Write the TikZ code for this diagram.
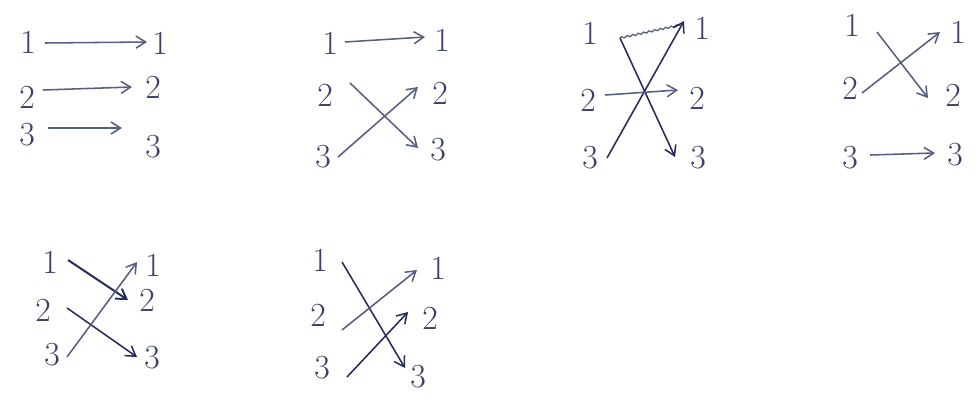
\documentclass[tikz,border=0pt]{standalone}
\usepackage{tikz}
\usetikzlibrary{arrows.meta,decorations.pathmorphing}
\usepackage{xcolor}
\definecolor{ink}{RGB}{38,42,92}
\definecolor{inkpale}{RGB}{88,94,130}

\tikzset{
  num/.style={inner sep=0pt, text=ink!90, font=\fontsize{24}{28}\selectfont},
  map/.style={-{Straight Barb[length=2.4mm,width=3mm]}, draw=ink, line width=1.1pt},
  mappale/.style={map, draw=inkpale},
}

\begin{document}
\begin{tikzpicture}[x=0.025cm,y=-0.025cm]
  \useasboundingbox (0,0) rectangle (979,402);
  % (a) identidad
  \begin{scope}
    \node[num] (a1l) at (28,42) {1};  \node[num] (a1r) at (160,43) {1};
    \node[num] (a2l) at (27,97) {2};  \node[num] (a2r) at (153,87) {2};
    \node[num] (a3l) at (27,135) {3}; \node[num] (a3r) at (153,147) {3};
    \draw[mappale] ([shift={(17,1)}]a1l.center) -- ([shift={(-13,-1)}]a1r.center);
    \draw[mappale] ([shift={(16,-7)}]a2l.center) -- ([shift={(-21,0)}]a2r.center);
    \draw[mappale] ([shift={(21,-7)}]a3l.center) -- ([shift={(-31,-19)}]a3r.center);
  \end{scope}
  % (b) 2 <-> 3
  \begin{scope}
    \node[num] (b1l) at (330,43) {1};  \node[num] (b1r) at (442,40) {1};
    \node[num] (b2l) at (325,95) {2};  \node[num] (b2r) at (440,93) {2};
    \node[num] (b3l) at (323,157) {3}; \node[num] (b3r) at (438,150) {3};
    \draw[mappale] ([shift={(15,-1)}]b1l.center) -- ([shift={(-17,-3)}]b1r.center);
    \draw[mappale] ([shift={(25,-12)}]b2l.center) -- ([shift={(-20,-2)}]b3r.center);
    \draw[mappale] ([shift={(15,0)}]b3l.center) -- ([shift={(-22,-6)}]b2r.center);
  \end{scope}
  % (c) 1 <-> 3
  \begin{scope}
    \node[num] (c1l) at (590,33) {1};  \node[num] (c1r) at (702,28) {1};
    \node[num] (c2l) at (588,100) {2}; \node[num] (c2r) at (697,98) {2};
    \node[num] (c3l) at (590,158) {3}; \node[num] (c3r) at (698,158) {3};
    \draw[inkpale, line width=0.9pt, decorate,
      decoration={snake, amplitude=0.6pt, segment length=4pt}]
      ([shift={(30,5)}]c1l.center) -- ([shift={(-22,-3)}]c1r.center);
    \draw[map] ([shift={(30,5)}]c1l.center) -- ([shift={(-23,-1)}]c3r.center);
    \draw[map] ([shift={(17,0)}]c3l.center) -- ([shift={(-18,-7)}]c1r.center);
    \draw[mappale] ([shift={(17,-5)}]c2l.center) -- ([shift={(-19,-8)}]c2r.center);
  \end{scope}
  % (d) 1 <-> 2
  \begin{scope}
    \node[num] (d1l) at (852,25) {1};  \node[num] (d1r) at (958,32) {1};
    \node[num] (d2l) at (850,88) {2};  \node[num] (d2r) at (953,95) {2};
    \node[num] (d3l) at (850,158) {3}; \node[num] (d3r) at (955,155) {3};
    \draw[mappale] ([shift={(25,7)}]d1l.center) -- ([shift={(-25,3)}]d2r.center);
    \draw[mappale] ([shift={(12,5)}]d2l.center) -- ([shift={(-18,0)}]d1r.center);
    \draw[mappale] ([shift={(20,-3)}]d3l.center) -- ([shift={(-20,-2)}]d3r.center);
  \end{scope}
  % (e) ciclo 1 -> 2 -> 3 -> 1
  \begin{scope}
    \node[num] (e1l) at (50,262) {1};  \node[num] (e1r) at (153,265) {1};
    \node[num] (e2l) at (43,310) {2};  \node[num] (e2r) at (147,300) {2};
    \node[num] (e3l) at (52,355) {3};  \node[num] (e3r) at (152,358) {3};
    \draw[map, line width=1.4pt] ([shift={(18,-2)}]e1l.center) -- ([shift={(-19,0)}]e2r.center);
    \draw[map] ([shift={(24,-2)}]e2l.center) -- ([shift={(-15,-1)}]e3r.center);
    \draw[mappale] ([shift={(15,2)}]e3l.center) -- ([shift={(-16,-3)}]e1r.center);
  \end{scope}
  % (f) ciclo 1 -> 3 -> 2 -> 1
  \begin{scope}
    \node[num] (f1l) at (320,260) {1}; \node[num] (f1r) at (438,268) {1};
    \node[num] (f2l) at (318,315) {2}; \node[num] (f2r) at (430,318) {2};
    \node[num] (f3l) at (322,368) {3}; \node[num] (f3r) at (418,377) {3};
    \draw[map] ([shift={(22,2)}]f1l.center) -- ([shift={(-13,-9)}]f3r.center);
    \draw[mappale] ([shift={(24,15)}]f2l.center) -- ([shift={(-21,2)}]f1r.center);
    \draw[map] ([shift={(25,9)}]f3l.center) -- ([shift={(-22,-6)}]f2r.center);
  \end{scope}
\end{tikzpicture}
\end{document}
